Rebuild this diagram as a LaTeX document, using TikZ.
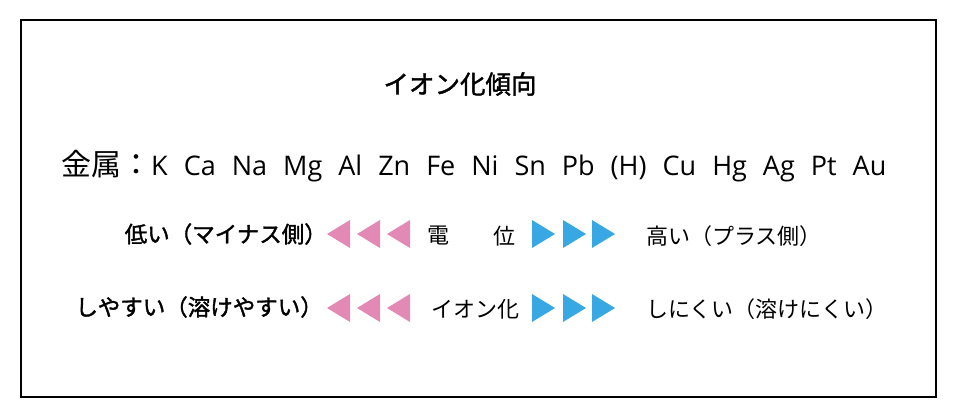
\documentclass[tikz,border=0pt]{standalone}
\usepackage{fontspec}
\newfontfamily\jp{Noto Sans CJK JP}
\newfontfamily\jpb{Noto Sans CJK JP}[FakeBold=1.6]
\newfontfamily\lat{Open Sans}
\definecolor{pinktri}{RGB}{226,137,182}
\definecolor{bluetri}{RGB}{56,168,228}
\begin{document}
\begin{tikzpicture}[x=1pt,y=-1pt,
  frame/.style={draw=black,line width=2pt},
  tleft/.style={fill=pinktri},
  tright/.style={fill=bluetri},
  lbl/.style={inner sep=0pt,font=\jp\fontsize{22}{24}\selectfont},
  blbl/.style={inner sep=0pt,font=\jpb\fontsize{22.5}{24}\selectfont},
]
\useasboundingbox (0,0) rectangle (960,419);
\draw[frame] (21,20) rectangle (936,397);
\node[inner sep=0pt,font=\jpb\fontsize{25.5}{28}\selectfont] (title) at (460,84) {イオン化傾向};
\node[inner sep=0pt,anchor=west] (metal) at (61,166) {{\jp\fontsize{30}{32}\selectfont 金属：}{\lat\fontsize{27}{30}\selectfont\spaceskip=16pt K Ca Na Mg Al Zn Fe Ni Sn Pb (H) Cu Hg Ag Pt Au}};
% row 1
\node[blbl,anchor=east] (low) at (327,234) {低い（マイナス側）};
\node[lbl] (den) at (438,236) {電};
\node[lbl] (i) at (504,236) {位};
\node[lbl,anchor=west] (high) at (646,236) {高い（プラス側）};
% row 2
\node[blbl,anchor=east] (easy) at (323,307) {しやすい（溶けやすい）};
\node[lbl] (ion) at (475,309) {イオン化};
\node[lbl,anchor=west] (hard) at (646,309) {しにくい（溶けにくい）};
% triangles
\foreach \y in {234,308}{
  \foreach \x in {327,357,387}{
    \fill[tleft] (\x,\y) -- (\x+23,\y-14) -- (\x+23,\y+14) -- cycle;
  }
  \foreach \x in {532,563,592}{
    \fill[tright] (\x+23,\y) -- (\x,\y-14) -- (\x,\y+14) -- cycle;
  }
}
\end{tikzpicture}
\end{document}
